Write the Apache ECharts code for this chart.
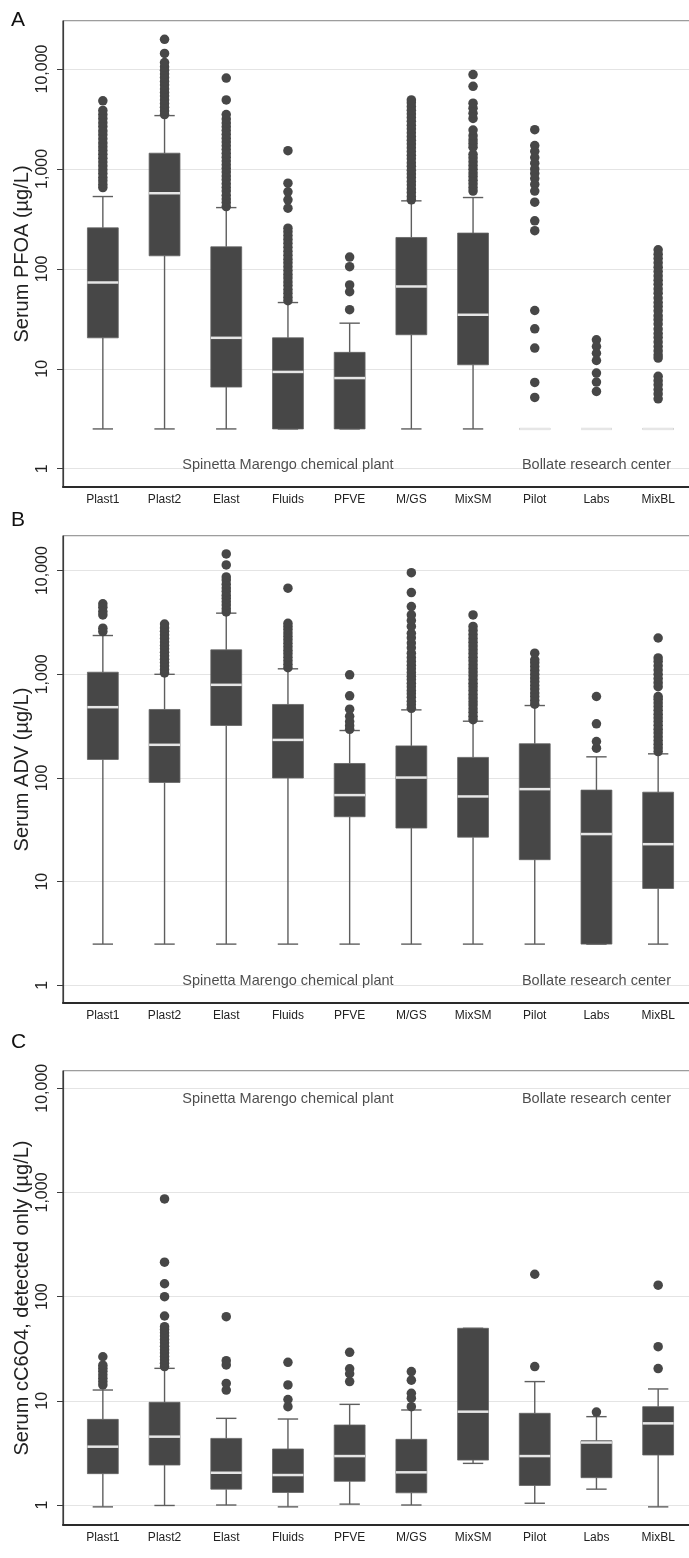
<!DOCTYPE html>
<html>
<head>
<meta charset="utf-8">
<script src="https://cdn.jsdelivr.net/npm/echarts@6/dist/echarts.min.js"></script>
<style>
html,body{margin:0;padding:0;background:#ffffff;}
#chart{width:689px;height:1558px;}
</style>
</head>
<body>
<div id="chart"></div>
<script>
// ---------- DATA ----------
const categories = ['Plast1', 'Plast2', 'Elast', 'Fluids', 'PFVE', 'M/GS', 'MixSM', 'Pilot', 'Labs', 'MixBL'];
const panelLetters = ['A', 'B', 'C'];
const yTitles = ['Serum PFOA (µg/L)', 'Serum ADV (µg/L)', 'Serum cC6O4, detected only (µg/L)'];
const siteLabels = ['Spinetta Marengo chemical plant', 'Bollate research center'];
const siteLabelCats = ['Fluids', 'Labs'];
const siteLabelValue = [1, 1, 10000];
const yMin = [0.656, 0.676, 0.643];
const yMax = [30200, 21580, 14650];

// box stats per category: [lower whisker, Q1, median, Q3, upper whisker]
const boxA = [
  [2.5, 20.4, 73, 257, 529],
  [2.5, 135, 571, 1436, 3415],
  [2.5, 6.56, 20.4, 166, 410],
  [2.5, 2.5, 9.3, 20.4, 46],
  [2.5, 2.5, 8.07, 14.6, 28.6],
  [2.5, 21.9, 66.6, 206, 479],
  [2.5, 10.96, 34.7, 228, 517],
  [2.5, 2.5, 2.5, 2.5, 2.5],
  [2.5, 2.5, 2.5, 2.5, 2.5],
  [2.5, 2.5, 2.5, 2.5, 2.5]
];
const boxB = [
  [2.5, 151, 482, 1048, 2367],
  [2.5, 90.6, 209, 458, 1000],
  [2.5, 321, 792, 1722, 3890],
  [2.5, 100, 233, 512, 1130],
  [2.5, 42.3, 68.4, 138, 287],
  [2.5, 32.9, 101, 204, 454],
  [2.5, 26.9, 66.4, 158, 353],
  [2.5, 16.3, 78.1, 214, 500],
  [2.5, 2.5, 28.8, 76.4, 160],
  [2.5, 8.6, 23, 73, 171]
];
const boxC = [
  [0.96, 2.0, 3.63, 6.64, 12.7],
  [0.99, 2.42, 4.53, 9.68, 20.5],
  [1.0, 1.42, 2.04, 4.36, 6.79],
  [0.96, 1.32, 1.94, 3.45, 6.69],
  [1.02, 1.69, 2.95, 5.86, 9.25],
  [1.0, 1.31, 2.06, 4.27, 8.17],
  [2.51, 2.7, 7.87, 49.7, 49.7],
  [1.04, 1.54, 2.95, 7.59, 15.3],
  [1.42, 1.83, 3.98, 4.15, 7.05],
  [0.96, 3.02, 6.08, 8.79, 13.0]
];

// outliers per category
const outA = [
  [650, 700, 760, 820, 900, 980, 1070, 1170, 1280, 1400, 1530, 1670, 1820, 2000, 2200, 2400, 2650, 2900, 3200, 3500, 3850, 4800],
  [3500, 3800, 4150, 4500, 4900, 5350, 5800, 6300, 6900, 7500, 8200, 8900, 9700, 10500, 11600, 14300, 19800],
  [420, 460, 500, 545, 600, 650, 710, 780, 850, 930, 1010, 1100, 1200, 1310, 1430, 1560, 1700, 1860, 2030, 2220, 2420, 2640, 2880, 3150, 3500, 4900, 8100],
  [48, 52, 57, 62, 68, 74, 81, 88, 96, 105, 115, 125, 137, 150, 164, 180, 197, 215, 235, 255, 405, 490, 590, 720, 1520],
  [39, 59, 69, 105, 131],
  [490, 530, 580, 630, 690, 750, 820, 890, 970, 1060, 1150, 1260, 1370, 1490, 1630, 1780, 1940, 2110, 2300, 2510, 2740, 2990, 3260, 3550, 3870, 4220, 4600, 4900],
  [600, 650, 710, 770, 840, 910, 990, 1080, 1180, 1290, 1400, 1650, 1800, 1950, 2150, 2450, 3200, 3600, 4050, 4550, 6700, 8800],
  [2470, 1710, 1500, 1300, 1140, 1000, 900, 800, 700, 600, 464, 302, 241, 38.3, 25.1, 16.1, 7.3, 5.17],
  [19.5, 16.7, 14.3, 12.1, 9.05, 7.36, 5.93],
  [155, 140, 127, 115, 104, 94, 85, 77, 70, 63, 57, 51, 46, 42, 38, 34, 31, 28, 25, 22.5, 20.5, 18.5, 16.7, 15.1, 13.7, 12.8, 8.4, 7.6, 6.9, 6.2, 5.6, 5.0]
];
const outB = [
  [4780, 4440, 4030, 3740, 2785, 2585],
  [1030, 1110, 1200, 1300, 1400, 1510, 1630, 1760, 1900, 2050, 2220, 2400, 2600, 2800, 3050],
  [4000, 4300, 4650, 5000, 5400, 5800, 6300, 6800, 7400, 8100, 8700, 11350, 14500],
  [1160, 1250, 1350, 1460, 1580, 1700, 1840, 1990, 2150, 2320, 2500, 2700, 2900, 3100, 6770],
  [295, 320, 350, 393, 461, 620, 988],
  [470, 510, 550, 600, 650, 700, 760, 820, 890, 960, 1040, 1130, 1220, 1330, 1450, 1600, 1800, 2000, 2250, 2490, 2900, 3300, 3740, 4500, 6150, 9560],
  [365, 395, 430, 465, 505, 545, 590, 640, 700, 760, 820, 890, 970, 1050, 1140, 1240, 1350, 1460, 1590, 1730, 1880, 2040, 2220, 2420, 2650, 2900, 3740],
  [515, 560, 610, 660, 720, 780, 850, 920, 1000, 1090, 1190, 1290, 1380, 1600],
  [194, 225, 333, 611],
  [180, 195, 212, 230, 250, 272, 296, 322, 350, 380, 413, 449, 488, 530, 576, 610, 760, 830, 910, 1000, 1100, 1210, 1330, 1440, 2240]
];
const outC = [
  [14.2, 15.3, 16.5, 17.8, 19.2, 20.6, 22, 26.5],
  [21.3, 23, 24.8, 26.7, 28.8, 31, 33.4, 36, 38.8, 41.8, 45, 48.5, 51.5, 65.2, 100, 133, 214, 866],
  [12.7, 14.7, 22.1, 24.3, 64.3],
  [8.79, 10.3, 14.2, 23.4],
  [15.3, 18.2, 20.3, 29.2],
  [8.79, 10.6, 11.8, 15.8, 19.1],
  [],
  [21.3, 164],
  [7.81],
  [20.4, 33.1, 129]
];

// ---------- CHART ----------
const FONT = '"Liberation Sans", Arial, Helvetica, sans-serif';
const boxes = [boxA, boxB, boxC];
const outs = [outA, outB, outC];
const tops = [21, 536, 1071];
const heights = [466, 467, 454];
const letterTops = [10, 510, 1032];

function renderBox(params, api) {
  const i = api.value(0);
  const band = api.size([1, 1])[0];
  const c = function (v) { return api.coord([i, v]); };
  const lo = c(api.value(1)), q1 = c(api.value(2)), md = c(api.value(3)),
        q3 = c(api.value(4)), hi = c(api.value(5));
  const x = md[0];
  const bw = band * 0.5, cw = band * 0.33;
  const ws = { stroke: '#5e5e5e', lineWidth: 1.4 };
  return {
    type: 'group',
    children: [
      { type: 'line', shape: { x1: x, y1: q3[1], x2: x, y2: hi[1] }, style: ws },
      { type: 'line', shape: { x1: x, y1: lo[1], x2: x, y2: q1[1] }, style: ws },
      { type: 'line', shape: { x1: x - cw / 2, y1: hi[1], x2: x + cw / 2, y2: hi[1] }, style: ws },
      { type: 'line', shape: { x1: x - cw / 2, y1: lo[1], x2: x + cw / 2, y2: lo[1] }, style: ws },
      { type: 'rect', shape: { x: x - bw / 2, y: q3[1], width: bw, height: q1[1] - q3[1] },
        style: { fill: '#474747', stroke: '#626262', lineWidth: 0.8 } },
      { type: 'line', shape: { x1: x - bw / 2, y1: md[1], x2: x + bw / 2, y2: md[1] },
        style: { stroke: '#e6e6e6', lineWidth: 2.5 } }
    ]
  };
}

const grid = [], xAxis = [], yAxis = [], series = [], title = [];
for (let p = 0; p < 3; p++) {
  const fi = 2 * p, pi = 2 * p + 1;
  grid.push({ left: 63, width: 660, top: tops[p], height: heights[p], show: true,
              outerBoundsMode: 'none', containLabel: false,
              borderColor: '#3c3c3c', borderWidth: 1.2, backgroundColor: 'transparent' });
  grid.push({ left: 72, right: 0, top: tops[p], height: heights[p],
              outerBoundsMode: 'none', containLabel: false });

  xAxis.push({ gridIndex: fi, type: 'value', min: 0, max: 1,
    axisLine: { show: true, onZero: false, lineStyle: { color: '#2a2a2a', width: 2 } },
    axisTick: { show: false }, axisLabel: { show: false }, splitLine: { show: false } });
  xAxis.push({ gridIndex: pi, type: 'category', data: categories,
    axisLine: { show: false }, axisTick: { show: false }, splitLine: { show: false },
    axisLabel: { interval: 0, margin: 7, fontSize: 12, color: '#222', fontFamily: FONT } });

  yAxis.push({ gridIndex: fi, type: 'log', min: yMin[p], max: yMax[p],
    name: yTitles[p], nameLocation: 'middle', nameGap: 31, nameMoveOverlap: false,
    nameTextStyle: { fontSize: 20, color: '#222', fontFamily: FONT },
    axisLine: { show: true, onZero: false, lineStyle: { color: '#3c3c3c', width: 1.2 } },
    axisTick: { show: true, length: 6, lineStyle: { color: '#3c3c3c', width: 1 } },
    minorTick: { show: false },
    axisLabel: { rotate: 90, margin: 12, fontSize: 16, color: '#222', fontFamily: FONT,
                 showMinLabel: false, showMaxLabel: false },
    splitLine: { show: true, lineStyle: { color: '#e4e4e4', width: 1.2 } } });
  yAxis.push({ gridIndex: pi, type: 'log', min: yMin[p], max: yMax[p], show: false,
    splitLine: { show: false } });

  series.push({
    type: 'custom', xAxisIndex: pi, yAxisIndex: pi, z: 2,
    renderItem: renderBox,
    encode: { x: 0, y: [1, 2, 3, 4, 5] },
    data: boxes[p].map(function (b, i) { return [i].concat(b); })
  });

  const pts = [];
  outs[p].forEach(function (vals, i) { vals.forEach(function (v) { pts.push([i, v]); }); });
  series.push({
    type: 'scatter', xAxisIndex: pi, yAxisIndex: pi, z: 3,
    symbol: 'circle', symbolSize: 9.5, itemStyle: { color: '#474747', opacity: 1 },
    data: pts
  });

  series.push({
    type: 'scatter', xAxisIndex: pi, yAxisIndex: pi, z: 4, silent: true,
    symbolSize: 1, itemStyle: { color: 'rgba(0,0,0,0)' },
    label: { show: true, position: 'inside', offset: [0, p < 2 ? -4 : 11],
             fontSize: 14.5, color: '#1e1e1e', fontFamily: FONT },
    data: siteLabelCats.map(function (c, k) {
      return { value: [c, siteLabelValue[p]], label: { formatter: siteLabels[k] } };
    })
  });

  title.push({ text: panelLetters[p], left: 11, top: letterTops[p], padding: 0,
    textStyle: { fontSize: 21, fontWeight: 'normal', color: '#111', fontFamily: FONT } });
}

const chart = echarts.init(document.getElementById('chart'), null, { renderer: 'canvas' });
chart.setOption({
  animation: false,
  backgroundColor: '#ffffff',
  title: title,
  grid: grid,
  xAxis: xAxis,
  yAxis: yAxis,
  series: series
});
</script>
</body>
</html>
